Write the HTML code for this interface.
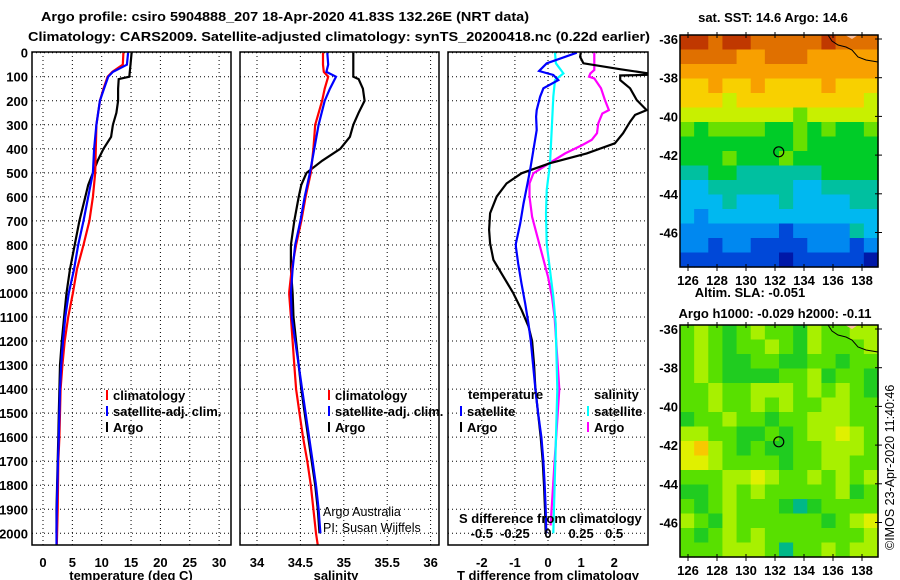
<!DOCTYPE html>
<html><head><meta charset="utf-8">
<style>
html,body{margin:0;padding:0;background:#fff;}
svg{display:block;font-family:"Liberation Sans",sans-serif;}
.b{font-weight:bold;font-size:13px;}
</style></head>
<body>
<svg id="c" width="900" height="580" viewBox="0 0 900 580" xmlns="http://www.w3.org/2000/svg">
<defs>
<clipPath id="cp1"><rect x="32" y="52" width="199" height="493"/></clipPath>
<clipPath id="cp2"><rect x="240" y="52" width="199" height="493"/></clipPath>
<clipPath id="cp3"><rect x="448" y="52" width="200" height="493"/></clipPath>
</defs>
<text x="285" y="21" text-anchor="middle" class="b" font-size="13.5" textLength="488" lengthAdjust="spacingAndGlyphs">Argo profile: csiro 5904888_207 18-Apr-2020 41.83S 132.26E (NRT data)</text>
<text x="339" y="41" text-anchor="middle" class="b" font-size="13.5" textLength="622" lengthAdjust="spacingAndGlyphs">Climatology: CARS2009. Satellite-adjusted climatology: synTS_20200418.nc (0.22d earlier)</text>
<g id="grid"></g>
<g id="lines"></g>
<g id="frames"></g>
<g id="maps"></g>
<g id="labels"></g>
</svg>
<script>
// ---- data ----
const depthTicks = [0,100,200,300,400,500,600,700,800,900,1000,1100,1200,1300,1400,1500,1600,1700,1800,1900,2000];
const tempTicks = [0,5,10,15,20,25,30];
const salTicks = [34,34.5,35,35.5,36];
const salTickLabels = ["34","34.5","35","35.5","36"];
const dtTicks = [-2,-1,0,1,2];
const dsTickLabels = ["-0.5","-0.25","0","0.25","0.5"];
const dsTicks = [-0.5,-0.25,0,0.25,0.5];

const argoDepth = [0,50,100,110,150,200,250,300,350,400,450,500,550,600,700,800,900,1000,1100,1200,1300,1400,1500,1600,1700,1800,1900,2000];
const tempArgo = [15.1,14.9,14.7,12.9,12.8,12.8,12.5,11.9,11.6,10.3,9.3,8.5,7.7,7.2,6.2,5.4,4.6,4.0,3.6,3.2,2.9,2.8,2.7,2.6,2.5,2.4,2.3,2.3];
const salArgo = [35.11,35.11,35.11,35.17,35.22,35.24,35.17,35.11,35.07,34.96,34.75,34.57,34.51,34.48,34.43,34.39,34.39,34.41,34.42,34.45,34.48,34.51,34.55,34.59,34.63,34.67,34.70,34.72];

const climDepth = [0,50,80,100,150,200,300,400,500,600,700,800,900,1000,1100,1200,1300,1400,1500,1600,1700,1800,1900,2000,2050];
const tempClim = [13.7,13.6,11.8,11.0,10.3,9.7,9.1,9.0,8.9,8.5,7.9,6.9,5.8,5.1,4.3,3.7,3.3,3.0,2.9,2.8,2.6,2.55,2.5,2.4,2.35];
const tempSat = [14.5,14.3,11.9,11.1,10.4,9.7,9.1,8.7,8.5,7.7,6.9,6.0,5.3,4.4,3.8,3.4,3.1,2.9,2.8,2.7,2.55,2.45,2.35,2.3,2.3];
const salClim = [34.76,34.76,34.77,34.82,34.78,34.75,34.67,34.65,34.62,34.56,34.51,34.45,34.40,34.37,34.39,34.41,34.43,34.45,34.49,34.53,34.58,34.62,34.65,34.68,34.70];
const salSat = [34.81,34.82,34.80,34.91,34.84,34.78,34.71,34.66,34.61,34.55,34.50,34.44,34.41,34.39,34.40,34.44,34.48,34.52,34.56,34.60,34.64,34.68,34.71,34.73,34.74];

const dtArgoDepth = [0,17,44,69,86,92,95,114,148,197,239,259,287,335,377,419,460,502,544,599,668,737,793,862,931,1000,1070,1139,1200,1300,1400,1500,1600,1700,1800,1900,2000];
const dtArgo = [0.99,0.97,1.07,2.2,3.03,3.03,2.18,2.18,2.48,2.68,2.98,2.63,2.48,2.27,2.02,1.17,0.06,-0.8,-1.25,-1.55,-1.75,-1.78,-1.75,-1.65,-1.35,-1.05,-0.8,-0.59,-0.48,-0.42,-0.38,-0.3,-0.22,-0.16,-0.12,-0.09,-0.07];
const dtSatDepth = [0,44,76,93,114,148,183,239,266,322,405,488,544,628,711,794,808,878,961,1044,1128,1200,1300,1400,1500,1600,1700,1800,1900,2000];
const dtSat = [0.87,-0.04,-0.27,0.16,0.31,-0.14,-0.24,-0.34,-0.36,-0.34,-0.44,-0.54,-0.62,-0.74,-0.84,-0.97,-0.97,-0.9,-0.8,-0.69,-0.59,-0.52,-0.45,-0.38,-0.3,-0.2,-0.14,-0.1,-0.07,-0.05];
const dsSatDepth = [0,44,86,114,183,322,461,572,669,794,905,1016,1128,1400,1700,2000];
const dsSat = [0.053,0.06,0.116,0.053,0.04,0.028,0.015,-0.01,-0.015,-0.01,0.015,0.04,0.058,0.07,0.055,0.04];
const dsArgoDepth = [0,72,86,100,107,148,197,239,253,294,335,363,384,419,461,502,544,599,683,766,849,932,1016,1100,1400,1700,1967];
const dsArgo = [0.35,0.35,0.32,0.31,0.35,0.40,0.43,0.46,0.41,0.38,0.37,0.33,0.26,0.13,0.005,-0.11,-0.14,-0.14,-0.12,-0.08,-0.04,0.0,0.03,0.05,0.085,0.05,0.02];

const sstColors = ["#0018a8","#0048d8","#0088f0","#00b8f0","#00c0a0","#00cc28","#68e000","#c8f000","#f8d000","#f8a000","#e07000","#c03800"];
const sstGrid = [
[11,11,10,11,11,10,10,10,10,10,11,10,10,10],
[10,10,10,10,9,9,10,10,10,9,9,9,9,9],
[9,9,9,9,9,9,9,9,9,9,9,9,9,9],
[8,8,9,8,8,9,8,8,8,8,9,8,8,8],
[8,8,8,7,8,8,8,8,8,8,8,8,8,7],
[7,7,7,7,7,7,7,7,6,7,7,7,7,7],
[6,5,6,6,6,6,5,5,6,5,6,5,5,6],
[5,5,5,5,5,5,5,5,6,5,5,5,5,5],
[5,5,5,6,5,5,5,6,5,5,5,5,5,5],
[4,4,5,5,4,4,4,4,4,4,5,5,5,5],
[3,3,4,4,4,4,4,4,3,3,4,4,4,4],
[3,3,3,4,3,3,3,4,3,3,3,3,4,4],
[3,2,3,3,3,3,3,3,3,3,3,3,3,3],
[2,2,2,2,2,2,2,1,2,2,2,2,4,3],
[2,2,1,2,2,1,1,1,1,2,2,2,1,2],
[1,1,1,1,1,1,1,0,1,1,1,1,1,0]];
const slaColors = ["#00b888","#20cc20","#58e000","#a8f000","#e0f000","#f8c800"];
const slaGrid = [
[2,3,2,1,2,3,2,2,1,3,2,2,3,3],
[2,3,2,1,2,2,3,2,1,3,2,2,2,3],
[2,3,2,1,1,2,2,1,1,2,2,1,2,2],
[2,3,2,1,1,1,1,2,2,3,1,2,2,1],
[2,2,3,2,2,3,3,3,2,3,2,3,2,1],
[2,2,3,2,2,3,2,3,2,2,3,3,2,2],
[1,2,2,3,2,2,1,2,2,3,3,3,2,2],
[3,3,2,2,1,1,2,1,2,3,3,4,3,2],
[4,5,3,2,1,2,1,1,2,2,3,3,3,2],
[4,4,3,2,2,2,2,1,2,2,3,3,2,2],
[2,2,2,3,3,4,3,2,2,3,2,3,2,3],
[1,1,2,3,2,3,2,2,2,2,2,3,1,2],
[2,1,2,3,2,2,2,1,0,1,2,2,2,2],
[3,2,1,3,2,2,2,2,2,2,1,2,3,4],
[2,1,2,3,2,3,2,2,2,2,2,2,2,3],
[2,2,2,3,3,3,2,0,2,2,3,2,3,3]];
const lonTicks = [126,128,130,132,134,136,138];
const latTicks = [-36,-38,-40,-42,-44,-46];
const argoLon = 132.26, argoLat = -41.83;

// ---- helpers ----
const NS="http://www.w3.org/2000/svg";
function el(tag, attrs, parent, txt){const e=document.createElementNS(NS,tag);for(const k in attrs)e.setAttribute(k,attrs[k]);if(txt!==undefined)e.textContent=txt;parent.appendChild(e);return e;}
const G=document.getElementById('grid'),L=document.getElementById('lines'),F=document.getElementById('frames'),M=document.getElementById('maps'),T=document.getElementById('labels');
const yD = d => 52.7 + 0.2403*d;
const xT = t => 43 + 5.87*t;
const xS = s => 257 + 86.8*(s-34);
const xDT = v => 548 + 33.1*v;
const xDS = v => 548 + 132.4*v;
const panels=[[32,231],[240,439],[448,648]];
const dots="1,3";

panels.forEach((p,i)=>{
  depthTicks.forEach(d=>{
    const g=el('line',{x1:p[0],x2:p[1],y1:yD(d),y2:yD(d),stroke:'#000','stroke-width':1,'stroke-dasharray':dots},G);
    
    
  });
});
tempTicks.forEach(t=>{const g=el('line',{x1:xT(t),x2:xT(t),y1:52,y2:545,stroke:'#000','stroke-dasharray':dots},G);});
salTicks.forEach(t=>{const g=el('line',{x1:xS(t),x2:xS(t),y1:52,y2:545,stroke:'#000','stroke-dasharray':dots},G);});
dtTicks.forEach(t=>{const g=el('line',{x1:xDT(t),x2:xDT(t),y1:52,y2:545,stroke:'#000','stroke-dasharray':dots},G);});

function line(xs, ds, fx, color, clip, name){
  const pts=xs.map((v,i)=>fx(v).toFixed(1)+','+yD(ds[i]).toFixed(1)).join(' ');
  const e=el('polyline',{points:pts,fill:'none',stroke:color,'stroke-width':2.2,'clip-path':'url(#'+clip+')'},L);
  
  
}
line(tempArgo,argoDepth,xT,'#000','cp1','temperature-argo-line');
line(tempClim,climDepth,xT,'#f00','cp1','temperature-climatology-line');
line(tempSat,climDepth,xT,'#00f','cp1','temperature-satellite-line');
line(salArgo,argoDepth,xS,'#000','cp2','salinity-argo-line');
line(salClim,climDepth,xS,'#f00','cp2','salinity-climatology-line');
line(salSat,climDepth.slice(0,24),xS,'#00f','cp2','salinity-satellite-line');
line(dsArgo,dsArgoDepth,xDS,'#f0f','cp3','salinity-diff-argo-line');
line(dsSat,dsSatDepth,xDS,'#0ff','cp3','salinity-diff-satellite-line');
line(dtArgo,dtArgoDepth,xDT,'#000','cp3','temperature-diff-argo-line');
line(dtSat,dtSatDepth,xDT,'#00f','cp3','temperature-diff-satellite-line');

panels.forEach((p,i)=>{const r=el('rect',{x:p[0],y:52,width:p[1]-p[0],height:493,fill:'none',stroke:'#000','stroke-width':1.5},F);});

depthTicks.forEach(d=>{const t=el('text',{x:28,y:yD(d)+5,'text-anchor':'end',class:'b'},T,String(d));});
tempTicks.forEach(v=>{const t=el('text',{x:xT(v),y:567,'text-anchor':'middle',class:'b'},T,String(v));});
salTicks.forEach((v,i)=>{const t=el('text',{x:xS(v),y:567,'text-anchor':'middle',class:'b'},T,salTickLabels[i]);});
dtTicks.forEach(v=>{const t=el('text',{x:xDT(v),y:567,'text-anchor':'middle',class:'b'},T,String(v));});
dsTicks.forEach((v,i)=>{const t=el('text',{x:xDS(v),y:538,'text-anchor':'middle',class:'b'},T,dsTickLabels[i]);});

function drawMap(grid, colors, y0, name){
  const x0=680,w=198,h=232,rows=grid.length,cols=grid[0].length;
  const cw=w/cols,ch=h/rows;
  const g=el('g',{},M);
  
  
  grid.forEach((row,r)=>row.forEach((v,c)=>{
    const cell=el('rect',{x:(x0+c*cw).toFixed(2),y:(y0+r*ch).toFixed(2),width:(cw+0.6).toFixed(2),height:(ch+0.6).toFixed(2),fill:colors[v]},g);
    
    
  }));
  el('path',{d:`M845 ${y0} L852 ${y0+4} L858 ${y0} Z`,fill:'#f8c0a0'},g);
  const coast=el('path',{d:`M828 ${y0} L832 ${y0+6} L838 ${y0+10} L846 ${y0+12} L852 ${y0+15} L858 ${y0+22} L866 ${y0+25} L878 ${y0+27}`,fill:'none',stroke:'#000','stroke-width':1},g);
  
  
  const lx = lon => 688 + (lon-126)*14.5;
  const ly = lat => y0 + 4 + (-36-lat)*19.35;
  const fr=el('rect',{x:680,y:y0,width:198,height:232,fill:'none',stroke:'#000','stroke-width':1.5},g);
  
  
  lonTicks.forEach(lo=>{el('line',{x1:lx(lo),x2:lx(lo),y1:y0-3,y2:y0+3,stroke:'#000'},g);el('line',{x1:lx(lo),x2:lx(lo),y1:y0+229,y2:y0+236,stroke:'#000'},g);
    const t=el('text',{x:lx(lo),y:y0+250,'text-anchor':'middle',class:'b'},T,String(lo));});
  latTicks.forEach(la=>{el('line',{x1:875,x2:882,y1:ly(la),y2:ly(la),stroke:'#000'},g);
    const t=el('text',{x:678,y:ly(la)+5,'text-anchor':'end',class:'b'},T,String(la));});
  const m=el('circle',{cx:lx(argoLon),cy:ly(argoLat),r:5,fill:'none',stroke:'#000','stroke-width':1.2},g);
  
  
}
drawMap(sstGrid,sstColors,35,'sst-map');
drawMap(slaGrid,slaColors,325,'sla-map');

function leg(x,y,color,text,name){
  el('line',{x1:x,x2:x,y1:y-10,y2:y,stroke:color,'stroke-width':2},T);
  const t=el('text',{x:x+6,y:y,class:'b'},T,text);
  
  
}
leg(107,400,'#f00','climatology','legend-climatology-temp');
leg(107,416,'#00f','satellite-adj. clim.','legend-satellite-temp');
leg(107,432,'#000','Argo','legend-argo-temp');
leg(329,400,'#f00','climatology','legend-climatology-sal');
leg(329,416,'#00f','satellite-adj. clim.','legend-satellite-sal');
leg(329,432,'#000','Argo','legend-argo-sal');
leg(461,416,'#00f','satellite','legend-t-diff-satellite');
leg(461,432,'#000','Argo','legend-t-diff-argo');
leg(588,416,'#0ff','satellite','legend-s-diff-satellite');
leg(588,432,'#f0f','Argo','legend-s-diff-argo');
</script>
<script>
const S=document.getElementById('labels');
function txt(x,y,s,name,extra){const e=document.createElementNS("http://www.w3.org/2000/svg",'text');e.setAttribute('x',x);e.setAttribute('y',y);e.setAttribute('class','b');for(const k in (extra||{}))e.setAttribute(k,extra[k]);e.textContent=s;


S.appendChild(e);}
txt(468,399,'temperature','legend-temperature-heading');
txt(594,399,'salinity','legend-salinity-heading');
txt(323,516,'Argo Australia','credit-argo-australia',{style:'font-weight:normal;font-size:12.5px'});
txt(323,532,'PI: Susan Wijffels','credit-pi',{style:'font-weight:normal;font-size:12.5px'});
txt(459,523,'S difference from climatology','s-diff-axis-title');
txt(131,580,'temperature (deg C)','temperature-axis-title',{'text-anchor':'middle'});
txt(336,580,'salinity','salinity-axis-title',{'text-anchor':'middle'});
txt(548,580,'T difference from climatology','t-diff-axis-title',{'text-anchor':'middle'});
txt(773,22,'sat. SST: 14.6 Argo: 14.6','sst-map-title',{'text-anchor':'middle'});
txt(750,297,'Altim. SLA: -0.051','sla-value-label',{'text-anchor':'middle'});
txt(775,318,'Argo h1000: -0.029 h2000: -0.11','argo-height-label',{'text-anchor':'middle'});
txt(0,0,'©IMOS 23-Apr-2020 11:40:46','imos-timestamp',{transform:'translate(894,550) rotate(-90)',style:'font-weight:normal;font-size:12.5px'});
</script>
</body></html>
